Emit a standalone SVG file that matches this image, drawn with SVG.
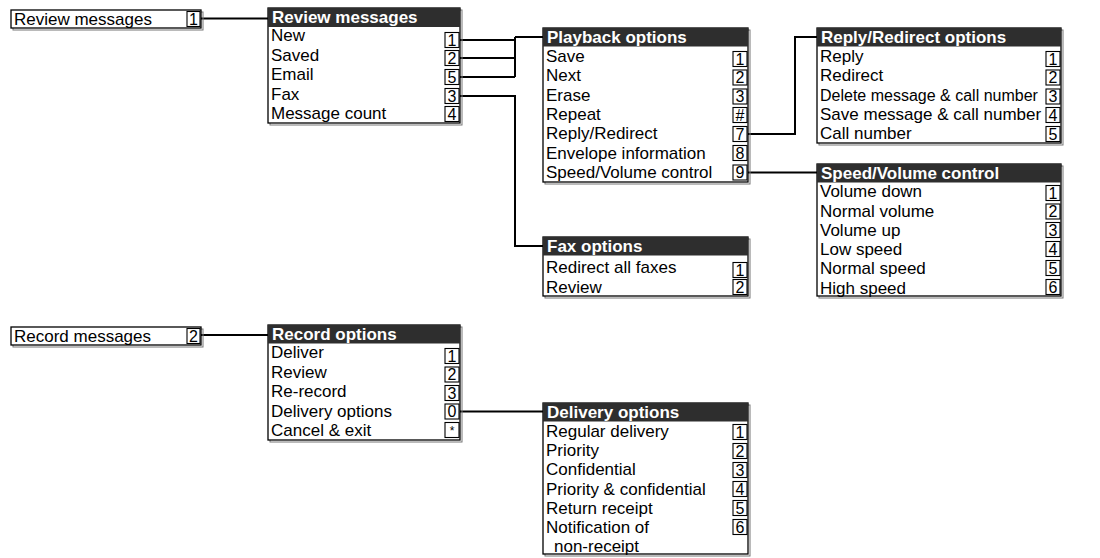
<svg xmlns="http://www.w3.org/2000/svg" width="1100" height="558" viewBox="0 0 1100 558">
<style>
.bg{fill:#fff}
.sh{fill:none;stroke:#777;stroke-width:1}
.pn{fill:#fff;stroke:#000;stroke-width:1.3}
.hd{fill:#2e2e2e}
.t{font-family:"Liberation Sans",Arial,sans-serif;font-size:17px;fill:#000}
.h{font-family:"Liberation Sans",Arial,sans-serif;font-size:17px;font-weight:bold;fill:#fff}
.kb{fill:#fff;stroke:#000;stroke-width:1.1}
.k{font-family:"Liberation Sans",Arial,sans-serif;font-size:16px;fill:#000;text-anchor:middle}
.c{fill:none;stroke:#000;stroke-width:2}
</style>
<rect class="bg" x="0" y="0" width="1100" height="558"/>

<g id="connectors">
<path class="c" d="M201 18.5H268"/>
<path class="c" d="M459 40H515M459 58H515M459 77H515M515 37V77M515 37H543"/>
<path class="c" d="M459 96H515V246H543"/>
<path class="c" d="M747 134H795V37H817"/>
<path class="c" d="M747 172.5H817"/>
<path class="c" d="M201 335H268"/>
<path class="c" d="M459 411.5H543"/>
</g>

<g id="review-messages-entry">
<rect class="sh" x="13" y="12" width="190" height="18"/>
<rect class="pn" x="11" y="10" width="190" height="18"/>
<text class="t" x="14" y="25">Review messages</text>
<rect class="kb" x="187" y="11.5" width="13" height="15"/>
<text class="k" x="193.5" y="25">1</text>
</g>

<g id="review-messages">
<rect class="sh" x="270" y="10" width="192" height="115"/>
<rect class="pn" x="268" y="8" width="192" height="115"/>
<rect class="hd" x="268" y="8" width="192" height="19"/>
<text class="h" x="272" y="23">Review messages</text>
<text class="t" x="271" y="41">New</text>
<text class="t" x="271" y="60.5">Saved</text>
<text class="t" x="271" y="80">Email</text>
<text class="t" x="271" y="99.5">Fax</text>
<text class="t" x="271" y="119">Message count</text>
<rect class="kb" x="445" y="32.5" width="14" height="15"/><text class="k" x="452" y="45.7">1</text>
<rect class="kb" x="445" y="50.5" width="14" height="15"/><text class="k" x="452" y="63.7">2</text>
<rect class="kb" x="445" y="69.5" width="14" height="15"/><text class="k" x="452" y="82.7">5</text>
<rect class="kb" x="445" y="88.5" width="14" height="15"/><text class="k" x="452" y="101.7">3</text>
<rect class="kb" x="445" y="106.5" width="14" height="15"/><text class="k" x="452" y="119.7">4</text>
</g>

<g id="playback-options">
<rect class="sh" x="545" y="30" width="205" height="154"/>
<rect class="pn" x="543" y="28" width="205" height="154"/>
<rect class="hd" x="543" y="28" width="205" height="18.5"/>
<text class="h" x="547" y="43">Playback options</text>
<text class="t" x="546" y="62">Save</text>
<text class="t" x="546" y="81">Next</text>
<text class="t" x="546" y="100.5">Erase</text>
<text class="t" x="546" y="120">Repeat</text>
<text class="t" x="546" y="139">Reply/Redirect</text>
<text class="t" x="546" y="158.5">Envelope information</text>
<text class="t" x="546" y="178">Speed/Volume control</text>
<rect class="kb" x="733" y="51.5" width="14" height="15"/><text class="k" x="740" y="64.7">1</text>
<rect class="kb" x="733" y="70" width="14" height="15"/><text class="k" x="740" y="83.2">2</text>
<rect class="kb" x="733" y="89" width="14" height="15"/><text class="k" x="740" y="102.2">3</text>
<rect class="kb" x="733" y="107.5" width="14" height="15"/><text class="k" x="740" y="120.7">#</text>
<rect class="kb" x="733" y="126.5" width="14" height="15"/><text class="k" x="740" y="139.7">7</text>
<rect class="kb" x="733" y="145.5" width="14" height="15"/><text class="k" x="740" y="158.7">8</text>
<rect class="kb" x="733" y="165" width="14" height="15"/><text class="k" x="740" y="178.2">9</text>
</g>

<g id="reply-redirect-options">
<rect class="sh" x="819" y="30" width="244" height="115"/>
<rect class="pn" x="817" y="28" width="244" height="115"/>
<rect class="hd" x="817" y="28" width="244" height="18.5"/>
<text class="h" x="821" y="43">Reply/Redirect options</text>
<text class="t" x="820" y="62">Reply</text>
<text class="t" x="820" y="81">Redirect</text>
<text class="t" x="820" y="100.5" style="font-size:16px">Delete message &amp; call number</text>
<text class="t" x="820" y="120">Save message &amp; call number</text>
<text class="t" x="820" y="139">Call number</text>
<rect class="kb" x="1046" y="51.5" width="14" height="15"/><text class="k" x="1053" y="64.7">1</text>
<rect class="kb" x="1046" y="70" width="14" height="15"/><text class="k" x="1053" y="83.2">2</text>
<rect class="kb" x="1046" y="89" width="14" height="15"/><text class="k" x="1053" y="102.2">3</text>
<rect class="kb" x="1046" y="107.5" width="14" height="15"/><text class="k" x="1053" y="120.7">4</text>
<rect class="kb" x="1046" y="126.5" width="14" height="15"/><text class="k" x="1053" y="139.7">5</text>
</g>

<g id="speed-volume-control">
<rect class="sh" x="819" y="166" width="244" height="132"/>
<rect class="pn" x="817" y="164" width="244" height="132"/>
<rect class="hd" x="817" y="164" width="244" height="18.5"/>
<text class="h" x="821" y="179">Speed/Volume control</text>
<text class="t" x="820" y="197">Volume down</text>
<text class="t" x="820" y="216.5">Normal volume</text>
<text class="t" x="820" y="235.5">Volume up</text>
<text class="t" x="820" y="255">Low speed</text>
<text class="t" x="820" y="274">Normal speed</text>
<text class="t" x="820" y="293.5">High speed</text>
<rect class="kb" x="1046" y="185.5" width="14" height="15"/><text class="k" x="1053" y="198.7">1</text>
<rect class="kb" x="1046" y="204" width="14" height="15"/><text class="k" x="1053" y="217.2">2</text>
<rect class="kb" x="1046" y="222.5" width="14" height="15"/><text class="k" x="1053" y="235.7">3</text>
<rect class="kb" x="1046" y="241.5" width="14" height="15"/><text class="k" x="1053" y="254.7">4</text>
<rect class="kb" x="1046" y="260.5" width="14" height="15"/><text class="k" x="1053" y="273.7">5</text>
<rect class="kb" x="1046" y="279.5" width="14" height="15"/><text class="k" x="1053" y="292.7">6</text>
</g>

<g id="fax-options">
<rect class="sh" x="545" y="239" width="205" height="59"/>
<rect class="pn" x="543" y="237" width="205" height="59"/>
<rect class="hd" x="543" y="237" width="205" height="18.5"/>
<text class="h" x="547" y="252">Fax options</text>
<text class="t" x="546" y="273">Redirect all faxes</text>
<text class="t" x="546" y="292.5">Review</text>
<rect class="kb" x="733" y="262.5" width="14" height="15"/><text class="k" x="740" y="275.7">1</text>
<rect class="kb" x="733" y="279.5" width="14" height="15"/><text class="k" x="740" y="292.7">2</text>
</g>

<g id="record-messages-entry">
<rect class="sh" x="13" y="329" width="190" height="18"/>
<rect class="pn" x="11" y="327" width="190" height="18"/>
<text class="t" x="14" y="342">Record messages</text>
<rect class="kb" x="187" y="328.5" width="13" height="15"/>
<text class="k" x="193.5" y="342">2</text>
</g>

<g id="record-options">
<rect class="sh" x="270" y="327" width="192" height="115"/>
<rect class="pn" x="268" y="325" width="192" height="115"/>
<rect class="hd" x="268" y="325" width="192" height="18.5"/>
<text class="h" x="272" y="340">Record options</text>
<text class="t" x="271" y="358">Deliver</text>
<text class="t" x="271" y="377.5">Review</text>
<text class="t" x="271" y="397">Re-record</text>
<text class="t" x="271" y="416.5">Delivery options</text>
<text class="t" x="271" y="436">Cancel &amp; exit</text>
<rect class="kb" x="445" y="348.5" width="14" height="15"/><text class="k" x="452" y="361.7">1</text>
<rect class="kb" x="445" y="367" width="14" height="15"/><text class="k" x="452" y="380.2">2</text>
<rect class="kb" x="445" y="385.5" width="14" height="15"/><text class="k" x="452" y="398.7">3</text>
<rect class="kb" x="445" y="404" width="14" height="15"/><text class="k" x="452" y="417.2">0</text>
<rect class="kb" x="445" y="422.5" width="14" height="15"/><text class="k" x="452" y="434.5" style="font-size:12px">*</text>
</g>

<g id="delivery-options">
<rect class="sh" x="545" y="405" width="205" height="151"/>
<rect class="pn" x="543" y="403" width="205" height="151"/>
<rect class="hd" x="543" y="403" width="205" height="18.5"/>
<text class="h" x="547" y="418">Delivery options</text>
<text class="t" x="546" y="437">Regular delivery</text>
<text class="t" x="546" y="456">Priority</text>
<text class="t" x="546" y="475">Confidential</text>
<text class="t" x="546" y="494.5">Priority &amp; confidential</text>
<text class="t" x="546" y="513.5">Return receipt</text>
<text class="t" x="546" y="533">Notification of</text>
<text class="t" x="554" y="552">non-receipt</text>
<rect class="kb" x="733" y="424.5" width="14" height="15"/><text class="k" x="740" y="437.7">1</text>
<rect class="kb" x="733" y="443.5" width="14" height="15"/><text class="k" x="740" y="456.7">2</text>
<rect class="kb" x="733" y="462.5" width="14" height="15"/><text class="k" x="740" y="475.7">3</text>
<rect class="kb" x="733" y="481.5" width="14" height="15"/><text class="k" x="740" y="494.7">4</text>
<rect class="kb" x="733" y="500.5" width="14" height="15"/><text class="k" x="740" y="513.7">5</text>
<rect class="kb" x="733" y="519.5" width="14" height="15"/><text class="k" x="740" y="532.7">6</text>
</g>
</svg>
